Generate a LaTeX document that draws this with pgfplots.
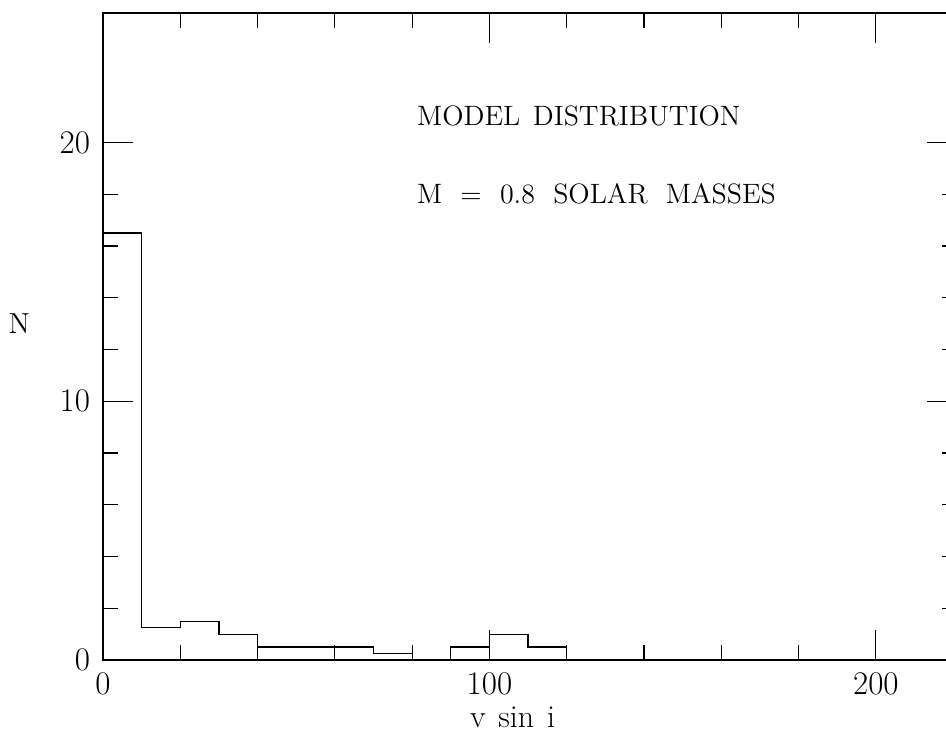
\documentclass[border=0pt]{standalone}
\usepackage{fontspec}
\usepackage{pgfplots}
\pgfplotsset{compat=1.18}

\begin{document}
\begin{tikzpicture}
\begin{axis}[
  scale only axis,
  width=427pt, height=323.5pt,
  xmin=0, xmax=221, ymin=0, ymax=25,
  axis line style={line width=0.75pt},
  xtick={0,100,200}, ytick={0,10,20},
  minor x tick num=4, minor y tick num=4,
  major tick length=15pt, minor tick length=7.5pt,
  every tick/.style={black, line width=0.6pt},
  tick align=inside,
  /pgf/number format/assume math mode=true,
  tick label style={font=\fontsize{16.5}{19}\selectfont},
  xticklabel style={yshift=-3pt},
  yticklabel style={xshift=-3pt},
  clip=false,
]
% model v sin i histogram, 10 km/s bins
\addplot[const plot, black, line width=0.6pt] coordinates {
  (0,16.5) (10,1.25) (20,1.5) (30,1.0) (40,0.5) (50,0.5) (60,0.5)
  (70,0.25) (80,0) (90,0.5) (100,1.0) (110,0.5) (120,0) (221,0)
};
\node[anchor=base west, inner sep=0pt, font=\fontsize{14}{16}\selectfont] at (axis cs:81.2,20.64) {MODEL\hspace{0.45em}DISTRIBUTION};
\node[anchor=base west, inner sep=0pt, font=\fontsize{14}{16}\selectfont] at (axis cs:81.2,17.63) {M\hspace{0.65em}=\hspace{0.65em}0.8\hspace{0.65em}SOLAR\hspace{0.65em}MASSES};
\node[anchor=center, font=\fontsize{14.5}{17}\selectfont] at (axis cs:-21.7,13.0) {N};
\node[anchor=base, inner sep=0pt, font=\fontsize{16}{19}\selectfont] at (axis cs:106,-2.6) {v\hspace{0.4em}sin\hspace{0.4em}i};
\end{axis}
\pgfresetboundingbox
\path[use as bounding box] (-51.5pt,-36.5pt) rectangle (421.5pt,330pt);
\end{tikzpicture}
\end{document}
